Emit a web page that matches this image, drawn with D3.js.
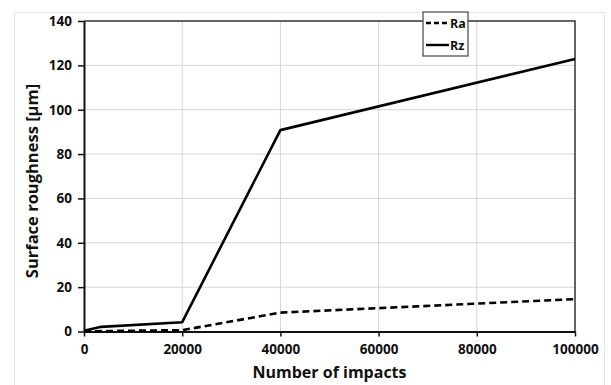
<!DOCTYPE html>
<html>
<head>
<meta charset="utf-8">
<script src="https://cdn.jsdelivr.net/npm/d3@7"></script>
<style>
  body { margin: 0; background: #fff; }
  text { font-family: "Open Sans", "Liberation Sans", sans-serif; font-weight: bold; }
</style>
</head>
<body>
<div id="chart"></div>
<script>
// data
const impacts = [0, 3500, 20000, 40000, 100000];
const ra = [0, 0.2, 0.6, 8.5, 14.6];
const rz = [0.3, 2.1, 4.2, 90.8, 122.9];
const xTicks = [0, 20000, 40000, 60000, 80000, 100000];
const yTicks = [0, 20, 40, 60, 80, 100, 120, 140];

const width = 611, height = 385;
const marginTop = 21, marginRight = 36, marginBottom = 53.5, marginLeft = 84;

const svg = d3.select("#chart").append("svg")
  .attr("width", width)
  .attr("height", height);

// faint outer frame
svg.append("rect")
  .attr("x", 14.5).attr("y", 12.5)
  .attr("width", 590).attr("height", 400)
  .attr("fill", "none")
  .attr("stroke", "#e4e4e4");

const x = d3.scaleLinear()
  .domain([0, 100000])
  .range([marginLeft, width - marginRight]);

const y = d3.scaleLinear()
  .domain([0, 140])
  .range([height - marginBottom, marginTop]);

// gridlines
svg.append("g")
  .selectAll("line.gy")
  .data(yTicks.slice(1, -1))
  .join("line")
  .attr("x1", x(0)).attr("x2", x(100000))
  .attr("y1", d => y(d)).attr("y2", d => y(d))
  .attr("stroke", "#d4d4d4").attr("stroke-width", 1);

svg.append("g")
  .selectAll("line.gx")
  .data(xTicks.slice(1, -1))
  .join("line")
  .attr("x1", d => x(d)).attr("x2", d => x(d))
  .attr("y1", y(0)).attr("y2", y(140))
  .attr("stroke", "#d4d4d4").attr("stroke-width", 1);

// top and right border
svg.append("path")
  .attr("d", `M${x(0)},${y(140)}H${x(100000)}V${y(0)}`)
  .attr("fill", "none")
  .attr("stroke", "#333")
  .attr("stroke-width", 1.5);

// axes
const xAxis = svg.append("g")
  .attr("transform", `translate(0,${y(0)})`)
  .call(d3.axisBottom(x).tickValues(xTicks).tickFormat(d3.format("d")).tickSize(5).tickSizeOuter(0));

const yAxis = svg.append("g")
  .attr("transform", `translate(${x(0)},0)`)
  .call(d3.axisLeft(y).tickValues(yTicks).tickSize(6).tickSizeOuter(0));

[xAxis, yAxis].forEach(g => {
  g.select(".domain").attr("stroke", "#111").attr("stroke-width", 2);
  g.selectAll(".tick line").attr("stroke", "#111").attr("stroke-width", 1.5);
  g.selectAll(".tick text")
    .attr("font-size", 13.5)
    .attr("fill", "#111")
    .style("font-family", "'Open Sans', sans-serif")
    .style("font-weight", "bold");
});
xAxis.selectAll(".tick text").attr("dy", "1.05em").attr("y", 8);
yAxis.selectAll(".tick text").attr("x", -12);

// lines
const line = vals => d3.line()
  .x((d, i) => x(impacts[i]))
  .y(d => y(d))(vals);

svg.append("path")
  .attr("d", line(rz))
  .attr("fill", "none")
  .attr("stroke", "#000")
  .attr("stroke-width", 2.6)
  .attr("stroke-linejoin", "round");

svg.append("path")
  .attr("d", line(ra))
  .attr("fill", "none")
  .attr("stroke", "#000")
  .attr("stroke-width", 2.6)
  .attr("stroke-dasharray", "7,4");

// legend
const legend = svg.append("g").attr("transform", "translate(423,12)");
legend.append("rect")
  .attr("width", 45).attr("height", 44)
  .attr("fill", "#fff")
  .attr("stroke", "#444")
  .attr("stroke-width", 1.2);
const items = [
  { name: "Ra", dash: "5,3" },
  { name: "Rz", dash: null }
];
items.forEach((it, i) => {
  const cy = 11 + i * 22;
  legend.append("line")
    .attr("x1", 3).attr("x2", 26)
    .attr("y1", cy).attr("y2", cy)
    .attr("stroke", "#000")
    .attr("stroke-width", 2.4)
    .attr("stroke-dasharray", it.dash);
  legend.append("text")
    .attr("x", 27).attr("y", cy)
    .attr("dy", "0.36em")
    .attr("font-size", 12.5)
    .attr("fill", "#111")
    .text(it.name);
});

// axis titles
svg.append("text")
  .attr("x", x(50000)).attr("y", 378)
  .attr("text-anchor", "middle")
  .attr("font-size", 16)
  .attr("fill", "#111")
  .text("Number of impacts");

svg.append("text")
  .attr("transform", "translate(38,181) rotate(-90)")
  .attr("text-anchor", "middle")
  .attr("font-size", 16.5)
  .attr("fill", "#111")
  .text("Surface roughness [μm]");
</script>
</body>
</html>
